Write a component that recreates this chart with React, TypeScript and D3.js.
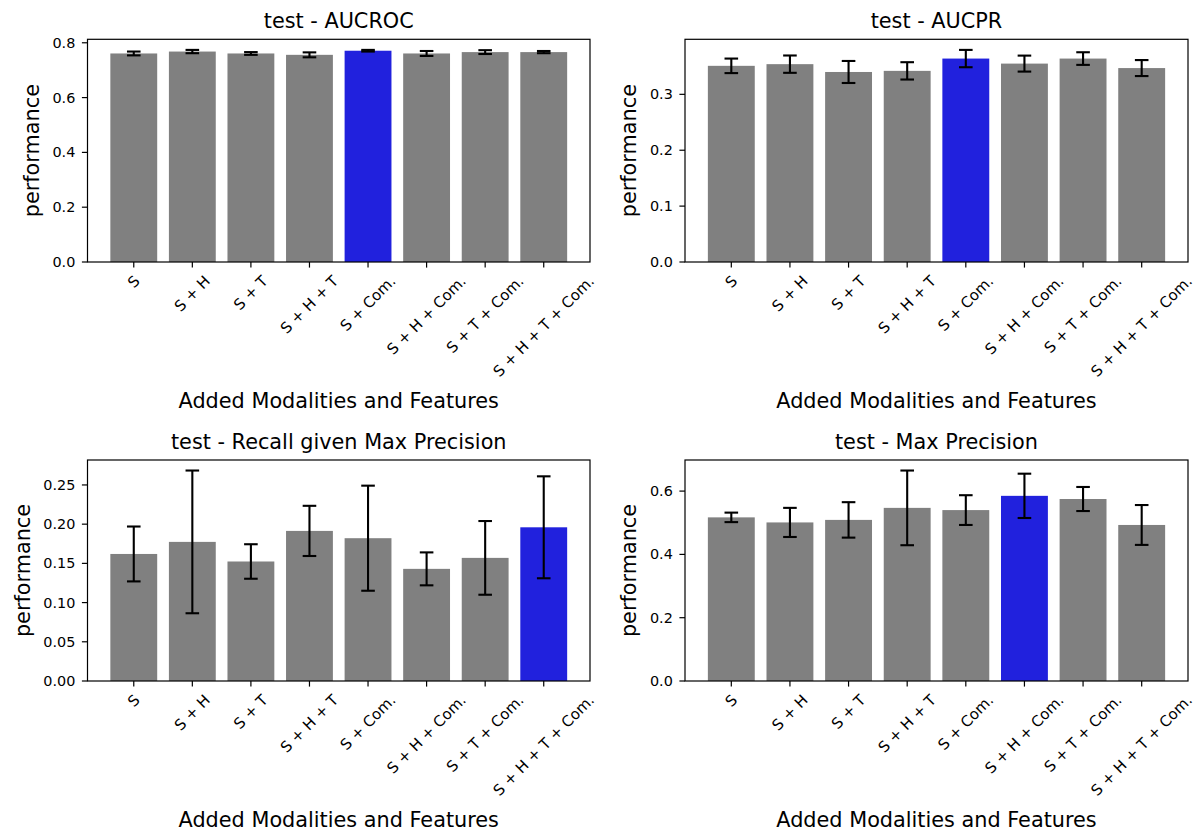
import React, { useEffect, useRef } from "react";
import * as d3 from "d3";

const categories = ["S", "S + H", "S + T", "S + H + T", "S + Com.", "S + H + Com.", "S + T + Com.", "S + H + T + Com."];

const aucrocMean = [0.761, 0.768, 0.761, 0.756, 0.771, 0.761, 0.766, 0.766];
const aucrocErr = [0.007, 0.006, 0.005, 0.009, 0.003, 0.009, 0.007, 0.004];

const aucprMean = [0.351, 0.354, 0.340, 0.342, 0.364, 0.355, 0.364, 0.347];
const aucprErr = [0.013, 0.0155, 0.0197, 0.0155, 0.0155, 0.0143, 0.0113, 0.0143];

const recallMean = [0.162, 0.1774, 0.1524, 0.1914, 0.1821, 0.143, 0.157, 0.196];
const recallErr = [0.035, 0.091, 0.022, 0.032, 0.067, 0.021, 0.047, 0.065];

const precMean = [0.517, 0.501, 0.509, 0.547, 0.54, 0.585, 0.575, 0.493];
const precErr = [0.015, 0.046, 0.056, 0.118, 0.047, 0.07, 0.038, 0.063];

const titles = ["test - AUCROC", "test - AUCPR", "test - Recall given Max Precision", "test - Max Precision"];
const highlights = [4, 4, 7, 5];
const yTicks = [
  [0, 0.2, 0.4, 0.6, 0.8],
  [0, 0.1, 0.2, 0.3],
  [0, 0.05, 0.1, 0.15, 0.2, 0.25],
  [0, 0.2, 0.4, 0.6],
];
const yFormats = [".1f", ".1f", ".2f", ".1f"];
const xLabel = "Added Modalities and Features";
const yLabel = "performance";

const W = 1196;
const H = 831;
const FONT = "DejaVu Sans, sans-serif";
const TICK_FS = 14.4;
const XTICK_FS = 15;
const LABEL_FS = 20.8;
const GREY = "#808080";
const BLUE = "#2121dd";

const panelsRect = [
  { x0: 87.5, x1: 590, y0: 39.3, y1: 262 },
  { x0: 685, x1: 1188, y0: 39.3, y1: 262 },
  { x0: 87.5, x1: 590, y0: 460, y1: 681 },
  { x0: 685, x1: 1188, y0: 460, y1: 681 },
];

export default function App() {
  const ref = useRef<SVGSVGElement | null>(null);

  useEffect(() => {
    const svg = d3.select(ref.current);
    svg.selectAll("*").remove();
    const means = [aucrocMean, aucprMean, recallMean, precMean];
    const errs = [aucrocErr, aucprErr, recallErr, precErr];
    const TL = 5.6;
    const PAD = 5.6;

    means.forEach((m, p) => {
      const e = errs[p];
      const r = panelsRect[p];
      const n = categories.length;
      const x = d3.scaleLinear().domain([-0.4 - 0.39, n - 1 + 0.4 + 0.39]).range([r.x0, r.x1]);
      const top = d3.max(m.map((v, i) => v + e[i])) as number;
      const y = d3.scaleLinear().domain([0, top * 1.05]).range([r.y1, r.y0]);
      const g = svg.append("g");

      g.selectAll("rect.bar")
        .data(m)
        .enter()
        .append("rect")
        .attr("x", (_, i) => x(i - 0.4))
        .attr("width", x(0.4) - x(-0.4))
        .attr("y", (v) => y(v))
        .attr("height", (v) => y(0) - y(v))
        .attr("fill", (_, i) => (i === highlights[p] ? BLUE : GREY));

      const cap = 6.8;
      m.forEach((v, i) => {
        const cx = x(i);
        const lo = y(v - e[i]);
        const hi = y(v + e[i]);
        g.append("line").attr("x1", cx).attr("x2", cx).attr("y1", lo).attr("y2", hi).attr("stroke", "#000").attr("stroke-width", 2.1);
        [lo, hi].forEach((yy) =>
          g.append("line").attr("x1", cx - cap).attr("x2", cx + cap).attr("y1", yy).attr("y2", yy).attr("stroke", "#000").attr("stroke-width", 2.1)
        );
      });

      g.append("rect")
        .attr("x", r.x0)
        .attr("y", r.y0)
        .attr("width", r.x1 - r.x0)
        .attr("height", r.y1 - r.y0)
        .attr("fill", "none")
        .attr("stroke", "#000")
        .attr("stroke-width", 1.2);

      const fmt = d3.format(yFormats[p]);
      let maxW = 0;
      yTicks[p].forEach((t) => {
        const yy = y(t);
        g.append("line").attr("x1", r.x0 - TL).attr("x2", r.x0).attr("y1", yy).attr("y2", yy).attr("stroke", "#000").attr("stroke-width", 1.2);
        const tx = g
          .append("text")
          .attr("x", r.x0 - TL - PAD - 1)
          .attr("y", yy)
          .attr("text-anchor", "end")
          .attr("dominant-baseline", "central")
          .attr("font-family", FONT)
          .attr("font-size", TICK_FS)
          .attr("fill", "#000")
          .text(fmt(t));
        const w = (tx.node() as SVGTextElement).getComputedTextLength();
        if (w > maxW) maxW = w;
      });

      let maxBottom = 0;
      categories.forEach((c, i) => {
        const cx = x(i);
        g.append("line").attr("x1", cx).attr("x2", cx).attr("y1", r.y1).attr("y2", r.y1 + TL).attr("stroke", "#000").attr("stroke-width", 1.2);
        const t = g
          .append("text")
          .attr("text-anchor", "middle")
          .attr("dominant-baseline", "central")
          .attr("font-family", FONT)
          .attr("font-size", XTICK_FS)
          .attr("fill", "#000")
          .text(c);
        const L = (t.node() as SVGTextElement).getComputedTextLength();
        const bh = (L + XTICK_FS) / Math.SQRT2;
        const topY = r.y1 + TL + PAD;
        const cy = topY + bh / 2;
        t.attr("x", cx).attr("y", cy).attr("transform", `rotate(-45, ${cx}, ${cy})`);
        if (topY + bh > maxBottom) maxBottom = topY + bh;
      });

      g.append("text")
        .attr("x", (r.x0 + r.x1) / 2)
        .attr("y", maxBottom + 28.5)
        .attr("text-anchor", "middle")
        .attr("font-family", FONT)
        .attr("font-size", LABEL_FS)
        .attr("fill", "#000")
        .text(xLabel);

      const tickLeft = r.x0 - TL - PAD - 1 - maxW;
      const bx = tickLeft - 13.5;
      const by = (r.y0 + r.y1) / 2;
      g.append("text")
        .attr("x", bx)
        .attr("y", by)
        .attr("text-anchor", "middle")
        .attr("transform", `rotate(-90, ${bx}, ${by})`)
        .attr("font-family", FONT)
        .attr("font-size", LABEL_FS)
        .attr("fill", "#000")
        .text(yLabel);

      g.append("text")
        .attr("x", (r.x0 + r.x1) / 2)
        .attr("y", r.y0 - 11)
        .attr("text-anchor", "middle")
        .attr("font-family", FONT)
        .attr("font-size", LABEL_FS)
        .attr("fill", "#000")
        .text(titles[p]);
    });
  }, []);

  return (
    <svg
      ref={ref}
      width={W}
      height={H}
      style={{ position: "absolute", left: 0, top: 0, background: "#fff" }}
    />
  );
}
